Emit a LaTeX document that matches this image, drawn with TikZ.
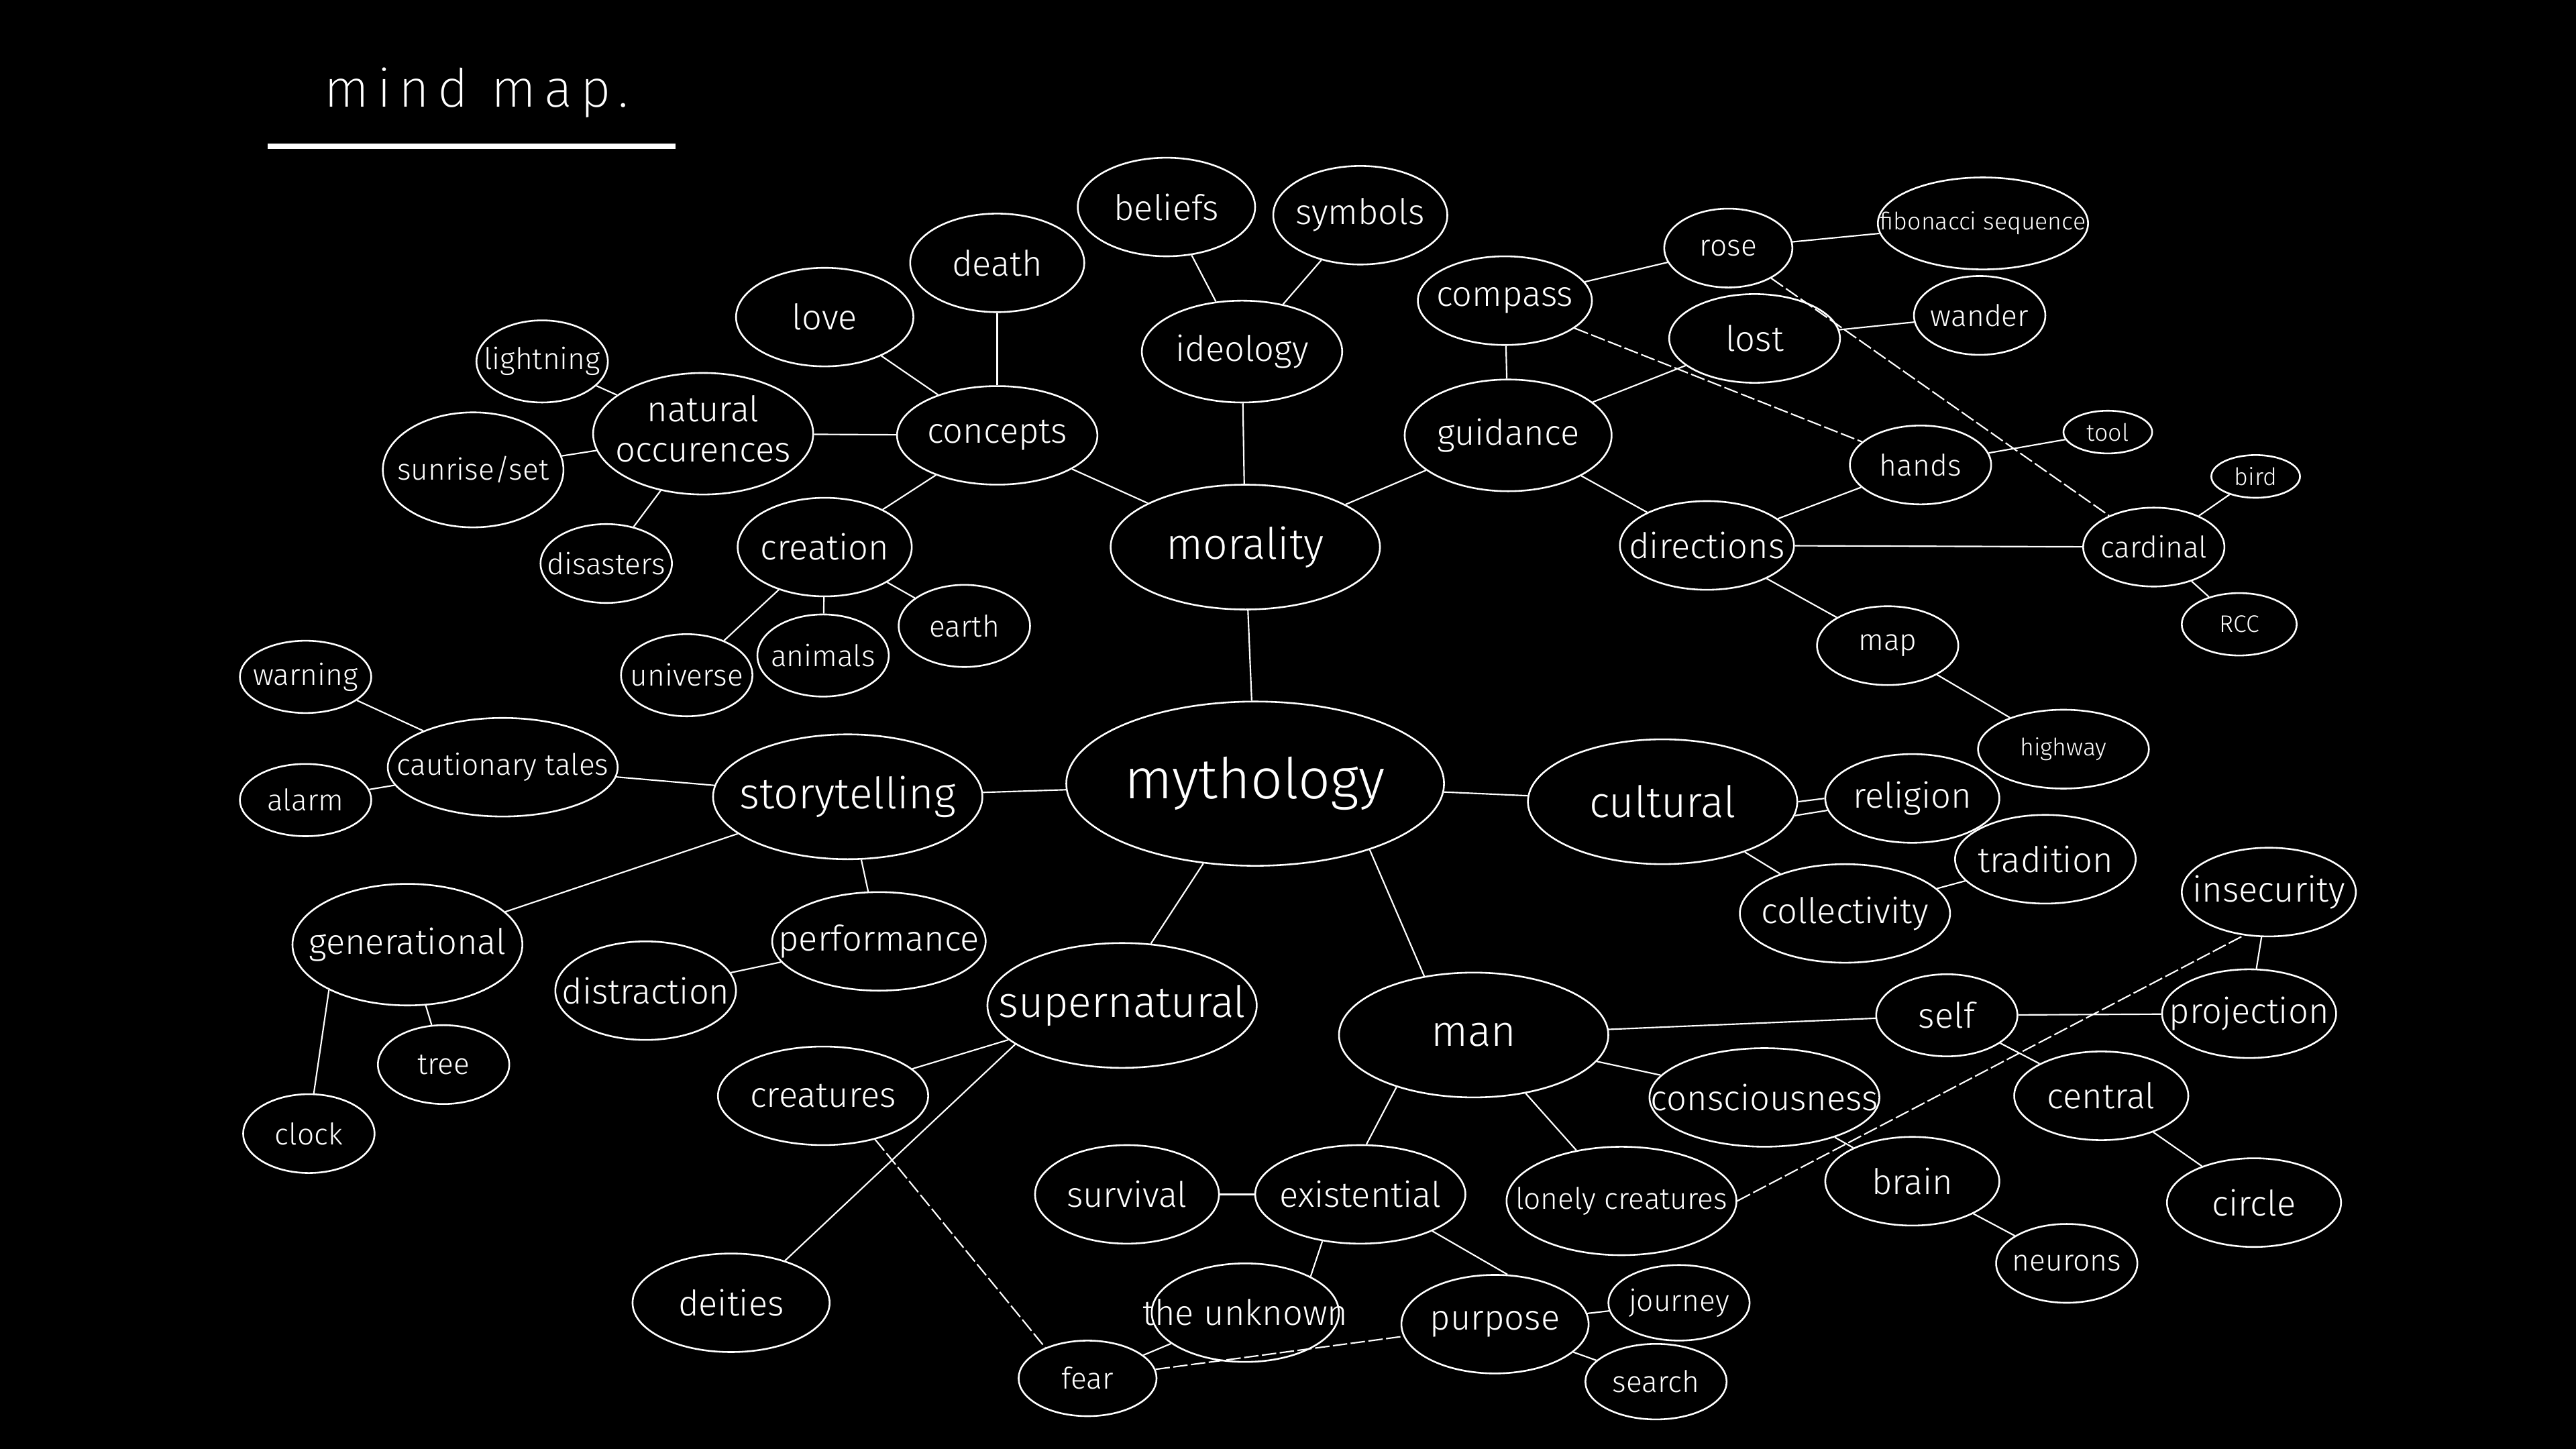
\documentclass[tikz,border=0pt]{standalone}
\usepackage{fontspec}
\setmainfont{Fira Sans Light}
\newfontfamily\titlefont{Fira Sans ExtraLight}
\usepackage{tikz}
\usetikzlibrary{shapes.geometric}

\newcommand\inb[1]{\makebox[0pt]{#1}}

\tikzset{
  bub/.style={draw=white, ellipse, text=white, inner sep=0pt, line width=0.6pt},
  sz/.style 2 args={minimum width=#1*0.04cm, minimum height=#2*0.04cm},
  ln/.style={draw=white, line width=0.5pt},
  dsh/.style={ln, dash pattern=on 5pt off 1.2pt},
  tmyth/.style={font=\fontsize{19.5}{22}\selectfont},
  tbig/.style={font=\fontsize{15}{17}\selectfont},
  tmid/.style={font=\fontsize{12.2}{13.8}\selectfont},
  tsml/.style={font=\fontsize{10.3}{12}\selectfont},
  ttiny/.style={font=\fontsize{8.3}{10}\selectfont}
}

\begin{document}
\begin{tikzpicture}[x=0.02cm, y=-0.02cm]
\fill [black] (0,0) rectangle (1568,882);
\useasboundingbox (0,0) rectangle (1568,882);

\node [text=white, anchor=base, inner sep=0pt, font=\titlefont\fontsize{18.3}{20}\selectfont\addfontfeatures{LetterSpace=15}] (title) at (290,65) {mind map.};
\fill [white] (163,87.5) rectangle (411,90.5);

\node [bub, sz={115}{50}, tmyth] (myth) at (764,477) {\inb{mythology}};

\node [bub, sz={82}{38}, tbig] (moral) at (758,333) {\inb{morality}};
\node [bub, sz={61}{31}, tmid] (ideo) at (756,214) {\inb{ideology}};
\node [bub, sz={54}{30}, tmid] (belief) at (710,126) {\inb{beliefs}};
\node [bub, sz={53}{30}, tmid] (symb) at (828,131) {\inb{symbols}};
\node [bub, sz={61}{30}, tmid] (conc) at (607,265) {\inb{concepts}};
\node [bub, sz={53}{30}, tmid] (death) at (607,160) {\inb{death}};
\node [bub, sz={54}{30}, tmid] (love) at (502,193) {\inb{love}};
\node [bub, sz={67}{37}, tmid] (nat) at (428,264) {\inb{\begin{tabular}{@{}c@{}}natural\\occurences\end{tabular}}};
\node [bub, sz={40}{25}, tsml] (light) at (330,220) {\inb{lightning}};
\node [bub, sz={55}{35}, tsml] (sun) at (288,286) {\inb{sunrise/set}};
\node [bub, sz={40}{24}, tsml] (dis) at (369,343) {\inb{disasters}};
\node [bub, sz={53}{30}, tmid] (crea) at (502,333) {\inb{creation}};
\node [bub, sz={40}{25}, tsml] (univ) at (418,411) {\inb{universe}};
\node [bub, sz={40}{25}, tsml] (anim) at (501,399) {\inb{animals}};
\node [bub, sz={40}{25}, tsml] (earth) at (587,381) {\inb{earth}};

\node [bub, sz={63}{34}, tmid] (guid) at (918,265) {\inb{guidance}};
\node [bub, sz={53}{27}, tmid] (comp) at (916,183) {\inb{compass}};
\node [bub, sz={39}{24}, tsml] (rose) at (1052,151) {\inb{rose}};
\node [bub, sz={64}{28}, ttiny] (fib) at (1207,136) {\inb{fibonacci sequence}};
\node [bub, sz={52}{27}, tmid] (lost) at (1068,206) {\inb{lost}};
\node [bub, sz={40}{24}, tsml] (wand) at (1205,192) {\inb{wander}};
\node [bub, sz={43}{24}, tsml] (hand) at (1169,283) {\inb{hands}};
\node [bub, sz={27}{13}, ttiny] (tool) at (1283,263) {\inb{tool}};
\node [bub, sz={53}{27}, tmid] (dir) at (1039,332) {\inb{directions}};
\node [bub, sz={43}{24}, tsml] (card) at (1311,333) {\inb{cardinal}};
\node [bub, sz={27}{13}, ttiny] (bird) at (1373,290) {\inb{bird}};
\node [bub, sz={35}{19}, ttiny] (rcc) at (1363,380) {\inb{RCC}};
\node [bub, sz={43}{24}, tsml] (map) at (1149,393) {\inb{map}};
\node [bub, sz={52}{24}, ttiny] (hwy) at (1256,456) {\inb{highway}};

\node [bub, sz={82}{38}, tbig] (cult) at (1012,488) {\inb{cultural}};
\node [bub, sz={53}{27}, tmid] (relig) at (1164,486) {\inb{religion}};
\node [bub, sz={55}{27}, tmid] (trad) at (1245,523) {\inb{tradition}};
\node [bub, sz={64}{30}, tmid] (coll) at (1123,556) {\inb{collectivity}};

\node [bub, sz={82}{38}, tbig] (story) at (516,485) {\inb{storytelling}};
\node [bub, sz={70}{30}, tsml] (caut) at (306,467) {\inb{cautionary tales}};
\node [bub, sz={40}{22}, tsml] (warn) at (186,412) {\inb{warning}};
\node [bub, sz={40}{22}, tsml] (alarm) at (186,487) {\inb{alarm}};
\node [bub, sz={70}{37}, tmid] (gen) at (248,575) {\inb{generational}};
\node [bub, sz={40}{24}, tsml] (tree) at (270,648) {\inb{tree}};
\node [bub, sz={40}{24}, tsml] (clock) at (188,690) {\inb{clock}};
\node [bub, sz={65}{30}, tmid] (perf) at (535,573) {\inb{performance}};
\node [bub, sz={55}{30}, tmid] (distr) at (393,603) {\inb{distraction}};

\node [bub, sz={82}{38}, tbig] (super) at (683,612) {\inb{supernatural}};
\node [bub, sz={64}{30}, tmid] (creat) at (501,667) {\inb{creatures}};
\node [bub, sz={60}{30}, tmid] (deit) at (445,793) {\inb{deities}};

\node [bub, sz={82}{38}, tbig] (man) at (897,630) {\inb{man}};
\node [bub, sz={70}{30}, tmid] (consc) at (1074,668) {\inb{consciousness}};
\node [bub, sz={43}{25}, tmid] (self) at (1185,618) {\inb{self}};
\node [bub, sz={53}{27}, tmid] (proj) at (1369,617) {\inb{projection}};
\node [bub, sz={53}{27}, tmid] (insec) at (1381,543) {\inb{insecurity}};
\node [bub, sz={53}{27}, tmid] (centr) at (1279,667) {\inb{central}};
\node [bub, sz={53}{27}, tmid] (circ) at (1372,732) {\inb{circle}};
\node [bub, sz={53}{27}, tmid] (brain) at (1164,719) {\inb{brain}};
\node [bub, sz={43}{24}, tsml] (neur) at (1258,769) {\inb{neurons}};
\node [bub, sz={70}{33}, tsml] (lone) at (987,731) {\inb{lonely creatures}};
\node [bub, sz={64}{30}, tmid] (exist) at (828,727) {\inb{existential}};
\node [bub, sz={56}{30}, tmid] (surv) at (686,727) {\inb{survival}};
\node [bub, sz={57}{30}, tmid] (unkn) at (758,799) {\inb{the unknown}};
\node [bub, sz={57}{30}, tmid] (purp) at (910,806) {\inb{purpose}};
\node [bub, sz={43}{23}, tsml] (journ) at (1022,793) {\inb{journey}};
\node [bub, sz={43}{23}, tsml] (search) at (1008,841) {\inb{search}};
\node [bub, sz={42}{23}, tsml] (fear) at (662,839) {\inb{fear}};

\path [ln] (moral) edge (myth);
\path [ln] (myth) edge (story);
\path [ln] (myth) edge (cult);
\path [ln] (myth.237) edge (super.65);
\path [ln] (myth.-30) edge (man.130);

\path [ln] (moral) edge (conc);
\path [ln] (moral) edge (ideo);
\path [ln] (moral) edge (guid);
\path [ln] (ideo) edge (belief);
\path [ln] (ideo) edge (symb);
\path [ln] (conc) edge (death);
\path [ln] (conc) edge (love);
\path [ln] (conc) edge (nat);
\path [ln] (conc) edge (crea);
\path [ln] (nat) edge (light);
\path [ln] (nat) edge (sun);
\path [ln] (nat) edge (dis);
\path [ln] (crea) edge (univ);
\path [ln] (crea) edge (anim);
\path [ln] (crea) edge (earth);

\path [ln] (guid) edge (comp);
\path [ln] (guid) edge (lost);
\path [ln] (guid) edge (dir);
\path [ln] (comp) edge (rose);
\path [ln] (rose) edge (fib);
\path [ln] (lost) edge (wand);
\path [ln] (hand) edge (tool);
\path [ln] (dir) edge (hand);
\path [ln] (dir) edge (card);
\path [ln] (dir) edge (map);
\path [ln] (map) edge (hwy);
\path [ln] (card) edge (bird);
\path [ln] (card) edge (rcc);
\path [dsh] (comp) edge (hand);
\path [dsh] (rose) edge (card);

\path [ln] (cult.east) edge (relig.west);
\path [ln] (cult.-6) edge (relig.188);
\path [ln] (cult) edge (coll);
\path [ln] (coll) edge (trad);

\path [ln] (story) edge (caut);
\path [ln] (caut) edge (warn);
\path [ln] (caut) edge (alarm);
\path [ln] (story) edge (gen);
\path [ln] (gen) edge (tree);
\path [ln] (gen.210) edge (clock.83);
\path [ln] (story) edge (perf);
\path [ln] (perf) edge (distr);

\path [ln] (super) edge (creat);
\path [ln] (super.200) edge (deit.38);
\path [dsh] (creat.-40) edge (fear.144);

\path [ln] (man) edge (self);
\path [ln] (man) edge (consc);
\path [ln] (man) edge (lone);
\path [ln] (man.214) edge (exist.83);
\path [ln] (self) edge (proj);
\path [ln] (self) edge (centr);
\path [ln] (centr) edge (circ);
\path [ln] (proj) edge (insec);
\path [ln] (consc) edge (brain);
\path [ln] (brain) edge (neur);
\path [dsh] (lone.east) edge (insec.240);
\path [ln] (exist) edge (surv);
\path [ln] (exist.231) edge (unkn.29);
\path [ln] (exist.-27) edge (purp.76);
\path [ln] (purp) edge (journ);
\path [ln] (purp) edge (search);
\path [ln] (fear) edge (unkn);
\path [dsh] (fear) edge (purp);
\end{tikzpicture}
\end{document}
